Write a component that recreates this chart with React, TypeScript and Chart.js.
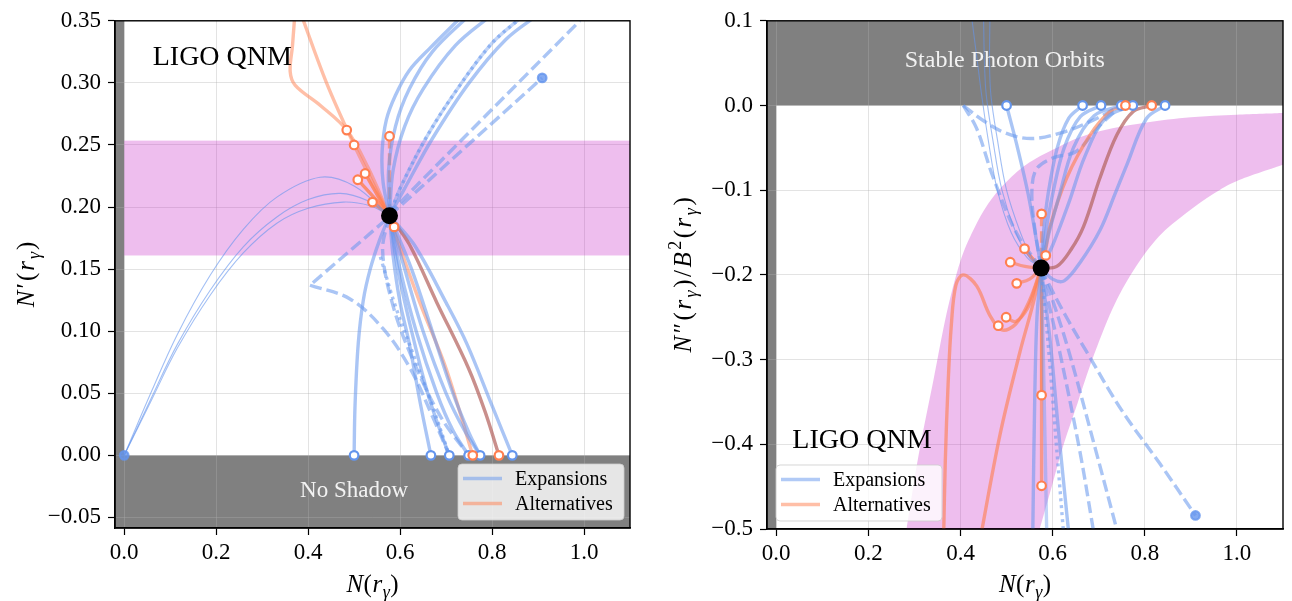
import React, { useEffect, useRef } from 'react';
import { Chart, registerables } from 'chart.js';
Chart.register(...registerables);

type Pt = [number, number];

// ---------------- axes ----------------
const xRange: Pt = [-0.02, 1.1];
const xTickValues = [0, 0.2, 0.4, 0.6, 0.8, 1.0];
const leftYRange: Pt = [-0.0585, 0.35];
const leftYTickValues = [-0.05, 0, 0.05, 0.1, 0.15, 0.2, 0.25, 0.3, 0.35];
const rightYRange: Pt = [-0.5, 0.1];
const rightYTickValues = [-0.5, -0.4, -0.3, -0.2, -0.1, 0, 0.1];
const seriesNames = ['Expansions', 'Alternatives'];

// ---------------- shaded regions ----------------
const leftBandY: Pt = [0.161, 0.2535];
const rightBandUpper: Pt[] = [[0.283, -0.5], [0.31, -0.41], [0.341, -0.325], [0.37, -0.245], [0.399, -0.185], [0.428, -0.147], [0.46, -0.116], [0.5, -0.09], [0.55, -0.067], [0.616, -0.048], [0.667, -0.036], [0.73, -0.027], [0.804, -0.02], [0.9, -0.014], [1.0, -0.011], [1.1, -0.009]];
const rightBandLower: Pt[] = [[0.572, -0.5], [0.598, -0.45], [0.624, -0.4], [0.655, -0.35], [0.686, -0.3], [0.73, -0.24], [0.775, -0.195], [0.83, -0.155], [0.89, -0.127], [0.95, -0.104], [1.0, -0.089], [1.1, -0.07]];

// ---------------- left panel: N'(r) vs N(r) ----------------
const leftCenter: Pt = [0.577, 0.193];
const leftThin1: Pt[] = [[0, 0], [0.06, 0.052], [0.115, 0.097], [0.187, 0.145], [0.259, 0.182], [0.332, 0.208], [0.426, 0.224], [0.5, 0.217], [0.577, 0.193]];
const leftThin2: Pt[] = [[0, 0], [0.06, 0.047], [0.115, 0.089], [0.187, 0.133], [0.259, 0.168], [0.332, 0.192], [0.4, 0.206], [0.47, 0.211], [0.53, 0.205], [0.577, 0.193]];
const leftThin3: Pt[] = [[0, 0], [0.06, 0.045], [0.115, 0.086], [0.187, 0.129], [0.259, 0.163], [0.332, 0.187], [0.4, 0.199], [0.476, 0.204], [0.535, 0.201], [0.577, 0.193]];
const leftUp1: Pt[] = [[0.577, 0.193], [0.563, 0.22], [0.561, 0.245], [0.57, 0.27], [0.59, 0.29], [0.62, 0.31], [0.665, 0.328], [0.73, 0.352]];
const leftUp2: Pt[] = [[0.577, 0.193], [0.575, 0.23], [0.59, 0.265], [0.62, 0.295], [0.67, 0.325], [0.752, 0.355]];
const leftUp3: Pt[] = [[0.577, 0.193], [0.585, 0.23], [0.61, 0.265], [0.65, 0.295], [0.72, 0.33], [0.8, 0.355]];
const leftUp4: Pt[] = [[0.577, 0.193], [0.6, 0.215], [0.66, 0.258], [0.73, 0.298], [0.8, 0.332], [0.861, 0.352]];
const leftUp5: Pt[] = [[0.577, 0.193], [0.61, 0.215], [0.67, 0.255], [0.75, 0.3], [0.83, 0.335], [0.9, 0.355]];
const leftDashUp1: Pt[] = [[0.577, 0.193], [0.607, 0.203], [0.909, 0.304]];
const leftDashUp2: Pt[] = [[0.577, 0.193], [0.593, 0.201], [0.991, 0.35]];
const leftDashCorner: Pt[] = [[0.57, 0.19], [0.404, 0.137]];
const leftDashCurve: Pt[] = [[0.404, 0.137], [0.491, 0.126], [0.563, 0.102], [0.622, 0.07], [0.672, 0.03], [0.707, 0]];
const leftDown500: Pt[] = [[0.5, 0], [0.502, 0.04], [0.509, 0.09], [0.52, 0.125], [0.535, 0.15], [0.555, 0.173], [0.577, 0.193]];
const leftDown667: Pt[] = [[0.577, 0.193], [0.585, 0.16], [0.6, 0.123], [0.62, 0.09], [0.645, 0.04], [0.667, 0]];
const leftDown707: Pt[] = [[0.577, 0.193], [0.595, 0.15], [0.625, 0.1], [0.66, 0.05], [0.685, 0.022], [0.707, 0]];
const leftDot707: Pt[] = [[0.557, 0.16], [0.59, 0.12], [0.63, 0.08], [0.67, 0.04], [0.707, 0]];
const leftDown749: Pt[] = [[0.577, 0.193], [0.6, 0.15], [0.635, 0.1], [0.68, 0.05], [0.715, 0.02], [0.749, 0]];
const leftDashDown749: Pt[] = [[0.577, 0.193], [0.562, 0.165], [0.585, 0.12], [0.63, 0.075], [0.69, 0.03], [0.749, 0]];
const leftDown774a: Pt[] = [[0.577, 0.193], [0.61, 0.15], [0.65, 0.1], [0.7, 0.05], [0.74, 0.02], [0.774, 0]];
const leftDown774b: Pt[] = [[0.577, 0.193], [0.625, 0.15], [0.67, 0.1], [0.715, 0.05], [0.75, 0.018], [0.774, 0]];
const leftDown844: Pt[] = [[0.577, 0.193], [0.63, 0.17], [0.7, 0.123], [0.745, 0.09], [0.8, 0.04], [0.844, 0]];
const leftMix815: Pt[] = [[0.577, 0.193], [0.62, 0.17], [0.68, 0.123], [0.749, 0.07], [0.785, 0.035], [0.815, 0]];
const leftAlt758: Pt[] = [[0.585, 0.183], [0.643, 0.123], [0.7, 0.07], [0.758, 0]];
const leftAltTop1: Pt[] = [[0.372, 0.36], [0.366, 0.33], [0.361, 0.309], [0.372, 0.298], [0.426, 0.282], [0.484, 0.262], [0.53, 0.232], [0.577, 0.193]];
const leftAltTop2: Pt[] = [[0.385, 0.355], [0.44, 0.3], [0.5, 0.25], [0.54, 0.22], [0.577, 0.193]];
const leftAltShort1: Pt[] = [[0.508, 0.222], [0.545, 0.207], [0.577, 0.193]];
const leftAltShort2: Pt[] = [[0.524, 0.227], [0.55, 0.21], [0.577, 0.193]];
const leftAltShort3: Pt[] = [[0.54, 0.204], [0.56, 0.198], [0.577, 0.193]];
const leftAltShort4: Pt[] = [[0.587, 0.184], [0.577, 0.193]];
const leftAltDash: Pt[] = [[0.577, 0.257], [0.577, 0.193]];
const leftAltMarkers: Pt[] = [[0.484, 0.262], [0.5, 0.25], [0.508, 0.222], [0.524, 0.227], [0.54, 0.204], [0.577, 0.257], [0.587, 0.184], [0.758, 0], [0.815, 0]];
const leftExpOpenMarkers: Pt[] = [[0.5, 0], [0.667, 0], [0.707, 0], [0.749, 0], [0.774, 0], [0.844, 0]];
const leftExpFilledMarkers: Pt[] = [[0, 0], [0.909, 0.304]];

// ---------------- right panel: N''(r)/B^2(r) vs N(r) ----------------
const rightCenter: Pt = [0.575, -0.192];
const rightThin1: Pt[] = [[0.424, 0.105], [0.437, 0.05], [0.446, 0.012], [0.46, -0.04], [0.48, -0.1], [0.51, -0.15], [0.545, -0.18], [0.575, -0.192]];
const rightThin2: Pt[] = [[0.45, 0.105], [0.452, 0.05], [0.456, 0.012], [0.47, -0.04], [0.49, -0.1], [0.52, -0.15], [0.55, -0.18], [0.575, -0.192]];
const rightThin3: Pt[] = [[0.464, 0.105], [0.463, 0.05], [0.466, 0.012], [0.48, -0.04], [0.5, -0.1], [0.53, -0.15], [0.555, -0.18], [0.575, -0.192]];
const rightUp500: Pt[] = [[0.5, 0], [0.522, -0.046], [0.547, -0.105], [0.566, -0.163], [0.575, -0.192]];
const rightUp665: Pt[] = [[0.575, -0.192], [0.58, -0.15], [0.59, -0.105], [0.61, -0.05], [0.635, -0.015], [0.665, 0]];
const rightUp705: Pt[] = [[0.575, -0.192], [0.585, -0.15], [0.6, -0.105], [0.625, -0.05], [0.66, -0.013], [0.705, 0]];
const rightUp749: Pt[] = [[0.575, -0.192], [0.59, -0.155], [0.615, -0.105], [0.645, -0.05], [0.69, -0.012], [0.749, 0]];
const rightUp774: Pt[] = [[0.575, -0.192], [0.6, -0.165], [0.635, -0.115], [0.67, -0.06], [0.715, -0.015], [0.774, 0]];
const rightUp844: Pt[] = [[0.575, -0.192], [0.6, -0.205], [0.625, -0.207], [0.66, -0.185], [0.703, -0.147], [0.735, -0.105], [0.761, -0.07], [0.804, -0.015], [0.844, 0]];
const rightMix815: Pt[] = [[0.575, -0.192], [0.609, -0.19], [0.64, -0.17], [0.667, -0.143], [0.703, -0.085], [0.739, -0.035], [0.775, -0.007], [0.815, 0]];
const rightAlt758: Pt[] = [[0.575, -0.192], [0.585, -0.17], [0.594, -0.143], [0.631, -0.085], [0.681, -0.035], [0.725, -0.007], [0.758, 0]];
const rightDashU: Pt[] = [[0.406, 0], [0.45, -0.018], [0.5, -0.033], [0.555, -0.039], [0.62, -0.032], [0.681, -0.019], [0.749, 0]];
const rightDashSteep: Pt[] = [[0.406, 0], [0.435, -0.027], [0.471, -0.085], [0.522, -0.151], [0.575, -0.192]];
const rightDashMid: Pt[] = [[0.575, -0.192], [0.56, -0.14], [0.555, -0.1], [0.565, -0.075], [0.6, -0.062], [0.652, -0.054], [0.7, -0.025], [0.749, 0]];
const rightDown557: Pt[] = [[0.575, -0.192], [0.566, -0.25], [0.561, -0.35], [0.557, -0.5]];
const rightDown587: Pt[] = [[0.575, -0.192], [0.58, -0.3], [0.587, -0.5]];
const rightDot623: Pt[] = [[0.575, -0.192], [0.59, -0.28], [0.605, -0.38], [0.623, -0.5]];
const rightDown634: Pt[] = [[0.575, -0.192], [0.595, -0.28], [0.612, -0.38], [0.634, -0.5]];
const rightDash688: Pt[] = [[0.575, -0.192], [0.59, -0.23], [0.615, -0.29], [0.659, -0.408], [0.688, -0.5]];
const rightDash739: Pt[] = [[0.575, -0.192], [0.6, -0.23], [0.635, -0.29], [0.694, -0.408], [0.739, -0.5]];
const rightDash910: Pt[] = [[0.575, -0.192], [0.587, -0.206], [0.63, -0.25], [0.674, -0.291], [0.75, -0.36], [0.833, -0.423], [0.91, -0.484]];
const rightAltVert1: Pt[] = [[0.576, -0.192], [0.576, -0.342]];
const rightAltVert2: Pt[] = [[0.576, -0.342], [0.576, -0.449]];
const rightAltDashTop: Pt[] = [[0.576, -0.128], [0.576, -0.192]];
const rightAltShort1: Pt[] = [[0.539, -0.169], [0.555, -0.18], [0.575, -0.192]];
const rightAltShort2: Pt[] = [[0.508, -0.185], [0.54, -0.19], [0.575, -0.192]];
const rightAltShort3: Pt[] = [[0.585, -0.177], [0.575, -0.192]];
const rightAltShort4: Pt[] = [[0.522, -0.21], [0.55, -0.205], [0.575, -0.192]];
const rightAltCurl: Pt[] = [[0.499, -0.25], [0.52, -0.255], [0.545, -0.24], [0.562, -0.215], [0.575, -0.192]];
const rightAltWiggle: Pt[] = [[0.363, -0.52], [0.367, -0.42], [0.373, -0.33], [0.38, -0.26], [0.39, -0.212], [0.406, -0.2], [0.435, -0.213], [0.464, -0.248], [0.49, -0.265], [0.52, -0.258], [0.55, -0.23], [0.575, -0.192]];
const rightAltRise: Pt[] = [[0.44, -0.52], [0.486, -0.388], [0.529, -0.291], [0.558, -0.233], [0.575, -0.192]];
const rightAltMarkers: Pt[] = [[0.576, -0.128], [0.539, -0.169], [0.508, -0.185], [0.585, -0.177], [0.522, -0.21], [0.499, -0.25], [0.482, -0.26], [0.576, -0.342], [0.576, -0.449], [0.758, 0], [0.815, 0]];
const rightExpOpenMarkers: Pt[] = [[0.5, 0], [0.665, 0], [0.705, 0], [0.749, 0], [0.774, 0], [0.844, 0]];
const rightExpFilledMarkers: Pt[] = [[0.91, -0.484]];

// ---------------- styles ----------------
type Kind = 'exp' | 'expThin' | 'expLight' | 'alt' | 'altLight' | 'altStrong' | 'mix';
type Dash = 'solid' | 'dashed' | 'dotted';
type Curve = { pts: Pt[]; kind: Kind; dash?: Dash };

const STYLE: Record<Kind, { color: string; width: number }> = {
  exp: { color: 'rgba(100,149,237,0.55)', width: 3.4 },
  expLight: { color: 'rgba(100,149,237,0.4)', width: 3.4 },
  expThin: { color: 'rgba(100,149,237,0.6)', width: 1.1 },
  alt: { color: 'rgba(255,127,80,0.62)', width: 3.4 },
  altLight: { color: 'rgba(255,127,80,0.5)', width: 3.4 },
  altStrong: { color: 'rgba(255,127,80,0.8)', width: 3.4 },
  mix: { color: 'rgba(180,100,95,0.72)', width: 3.4 },
};
const BLUE_EDGE = '#6495ED';
const ORANGE_EDGE = '#FF7F50';
const GRAY = '#808080';
const BAND = 'rgba(200,40,200,0.3)';
const SERIF = '"Liberation Serif", "DejaVu Serif", serif';

const leftCurves: Curve[] = [
  { pts: leftThin1, kind: 'expThin' }, { pts: leftThin2, kind: 'expThin' }, { pts: leftThin3, kind: 'expThin' },
  { pts: leftUp1, kind: 'exp' }, { pts: leftUp2, kind: 'exp' }, { pts: leftUp3, kind: 'exp' },
  { pts: leftUp4, kind: 'exp', dash: 'dotted' }, { pts: leftUp4, kind: 'expLight' }, { pts: leftUp5, kind: 'exp' },
  { pts: leftDashUp1, kind: 'exp', dash: 'dashed' }, { pts: leftDashUp2, kind: 'exp', dash: 'dashed' },
  { pts: leftDashCorner, kind: 'exp', dash: 'dashed' }, { pts: leftDashCurve, kind: 'exp', dash: 'dashed' },
  { pts: leftDown500, kind: 'exp' }, { pts: leftDown667, kind: 'exp' }, { pts: leftDown707, kind: 'exp' },
  { pts: leftDot707, kind: 'exp', dash: 'dotted' }, { pts: leftDown749, kind: 'exp' },
  { pts: leftDashDown749, kind: 'exp', dash: 'dashed' }, { pts: leftDown774a, kind: 'exp' },
  { pts: leftDown774b, kind: 'exp' }, { pts: leftDown844, kind: 'exp' }, { pts: leftMix815, kind: 'mix' },
  { pts: leftAlt758, kind: 'altLight' }, { pts: leftAltTop1, kind: 'altLight' }, { pts: leftAltTop2, kind: 'altLight' },
  { pts: leftAltShort1, kind: 'altStrong' }, { pts: leftAltShort2, kind: 'altStrong' }, { pts: leftAltShort3, kind: 'altStrong' },
  { pts: leftAltShort4, kind: 'altStrong' }, { pts: leftAltDash, kind: 'alt', dash: 'dashed' },
];

const rightCurves: Curve[] = [
  { pts: rightThin1, kind: 'expThin' }, { pts: rightThin2, kind: 'expThin' }, { pts: rightThin3, kind: 'expThin' },
  { pts: rightUp500, kind: 'exp' }, { pts: rightUp665, kind: 'exp' }, { pts: rightUp705, kind: 'exp' },
  { pts: rightUp749, kind: 'exp' }, { pts: rightUp774, kind: 'exp' }, { pts: rightUp844, kind: 'exp' },
  { pts: rightMix815, kind: 'mix' }, { pts: rightAlt758, kind: 'alt' },
  { pts: rightDashU, kind: 'exp', dash: 'dashed' }, { pts: rightDashSteep, kind: 'exp', dash: 'dashed' },
  { pts: rightDashMid, kind: 'exp', dash: 'dashed' },
  { pts: rightDown557, kind: 'exp' }, { pts: rightDown587, kind: 'expLight' }, { pts: rightDot623, kind: 'exp', dash: 'dotted' },
  { pts: rightDown634, kind: 'exp' }, { pts: rightDash688, kind: 'exp', dash: 'dashed' },
  { pts: rightDash739, kind: 'exp', dash: 'dashed' }, { pts: rightDash910, kind: 'exp', dash: 'dashed' },
  { pts: rightAltVert1, kind: 'altStrong' }, { pts: rightAltVert2, kind: 'alt' }, { pts: rightAltDashTop, kind: 'alt', dash: 'dashed' },
  { pts: rightAltShort1, kind: 'altStrong' }, { pts: rightAltShort2, kind: 'alt' }, { pts: rightAltShort3, kind: 'altStrong' },
  { pts: rightAltShort4, kind: 'alt' }, { pts: rightAltCurl, kind: 'alt' }, { pts: rightAltWiggle, kind: 'alt' },
  { pts: rightAltRise, kind: 'alt' },
];

type Seg = { t: string; it?: boolean; sub?: boolean; sup?: boolean };
const xTitle: Seg[] = [{ t: 'N', it: true }, { t: '(' }, { t: 'r', it: true }, { t: 'γ', it: true, sub: true }, { t: ')' }];
const leftYTitle: Seg[] = [{ t: 'N', it: true }, { t: '′' }, { t: '(' }, { t: 'r', it: true }, { t: 'γ', it: true, sub: true }, { t: ')' }];
const rightYTitle: Seg[] = [{ t: 'N', it: true }, { t: '″' }, { t: '(' }, { t: 'r', it: true }, { t: 'γ', it: true, sub: true }, { t: ')' }, { t: '/' }, { t: 'B', it: true }, { t: '2', sup: true }, { t: '(' }, { t: 'r', it: true }, { t: 'γ', it: true, sub: true }, { t: ')' }];

type Label = { text: string; x: number; y: number; size: number; color: string; align: CanvasTextAlign };

type PanelSpec = {
  width: number; yAxisW: number; xAxisH: number; padTop: number; padRight: number;
  yRange: Pt; yTicks: number[]; yDecimals: number;
  curves: Curve[]; center: Pt; altMarkers: Pt[]; expOpen: Pt[]; expFilled: Pt[];
  grayRects: [number, number, number, number][];
  bandY?: Pt; bandUpper?: Pt[]; bandLower?: Pt[];
  labels: Label[]; yTitle: Seg[]; yTitleX: number; yTitleSpacing: number; legendSide: 'left' | 'right';
};

const leftSpec: PanelSpec = {
  width: 645, yAxisW: 115, xAxisH: 73, padTop: 15, padRight: 15,
  yRange: leftYRange, yTicks: leftYTickValues, yDecimals: 2,
  curves: leftCurves, center: leftCenter, altMarkers: leftAltMarkers, expOpen: leftExpOpenMarkers, expFilled: leftExpFilledMarkers,
  grayRects: [[xRange[0], 0, leftYRange[0], leftYRange[1]], [xRange[0], xRange[1], leftYRange[0], 0]],
  bandY: leftBandY,
  labels: [
    { text: 'LIGO QNM', x: 0.062, y: 0.3147, size: 28, color: '#000', align: 'left' },
    { text: 'No Shadow', x: 0.5, y: -0.0335, size: 23, color: '#f2f2f2', align: 'center' },
  ],
  yTitle: leftYTitle, yTitleX: 34, yTitleSpacing: 2, legendSide: 'right',
};

const rightSpec: PanelSpec = {
  width: 647, yAxisW: 122, xAxisH: 72, padTop: 15, padRight: 9,
  yRange: rightYRange, yTicks: rightYTickValues, yDecimals: 1,
  curves: rightCurves, center: rightCenter, altMarkers: rightAltMarkers, expOpen: rightExpOpenMarkers, expFilled: rightExpFilledMarkers,
  grayRects: [[xRange[0], 0, rightYRange[0], rightYRange[1]], [xRange[0], xRange[1], 0, rightYRange[1]]],
  bandUpper: rightBandUpper, bandLower: rightBandLower,
  labels: [
    { text: 'Stable Photon Orbits', x: 0.496, y: 0.0452, size: 24, color: '#f2f2f2', align: 'center' },
    { text: 'LIGO QNM', x: 0.035, y: -0.4048, size: 28, color: '#000', align: 'left' },
  ],
  yTitle: rightYTitle, yTitleX: 46, yTitleSpacing: 2.5, legendSide: 'left',
};

const fmt = (v: number, d: number) => v.toFixed(d).replace('-', '\u2212');

function drawRich(ctx: CanvasRenderingContext2D, segs: Seg[], cx: number, cy: number, size: number, rotate: boolean, spacing: number) {
  ctx.save();
  ctx.translate(cx, cy);
  if (rotate) ctx.rotate(-Math.PI / 2);
  const font = (s: Seg) => `${s.it ? 'italic ' : ''}${s.sub || s.sup ? Math.round(size * 0.7) : size}px ${SERIF}`;
  let w = 0;
  for (const s of segs) { ctx.font = font(s); w += ctx.measureText(s.t).width + spacing; }
  w -= spacing;
  let x = -w / 2;
  ctx.textBaseline = 'alphabetic';
  ctx.textAlign = 'left';
  ctx.fillStyle = '#000';
  for (const s of segs) {
    ctx.font = font(s);
    const dy = s.sub ? size * 0.22 : s.sup ? -size * 0.4 : 0;
    ctx.fillText(s.t, x, dy);
    x += ctx.measureText(s.t).width + spacing;
  }
  ctx.restore();
}

// smooth path through pixel points (Catmull-Rom as cubic Bezier)
function smoothPath(ctx: CanvasRenderingContext2D, p: Pt[], start: boolean) {
  if (start) ctx.moveTo(p[0][0], p[0][1]); else ctx.lineTo(p[0][0], p[0][1]);
  for (let i = 0; i < p.length - 1; i++) {
    const p0 = p[Math.max(0, i - 1)], p1 = p[i], p2 = p[i + 1], p3 = p[Math.min(p.length - 1, i + 2)];
    const c1x = p1[0] + (p2[0] - p0[0]) / 6, c1y = p1[1] + (p2[1] - p0[1]) / 6;
    const c2x = p2[0] - (p3[0] - p1[0]) / 6, c2y = p2[1] - (p3[1] - p1[1]) / 6;
    ctx.bezierCurveTo(c1x, c1y, c2x, c2y, p2[0], p2[1]);
  }
}

function decorPlugin(spec: PanelSpec) {
  return {
    id: 'decor',
    beforeDraw(chart: any) {
      const { ctx, chartArea: a } = chart;
      const xs = chart.scales.x, ys = chart.scales.y;
      ctx.save();
      ctx.beginPath(); ctx.rect(a.left, a.top, a.width, a.height); ctx.clip();
      ctx.fillStyle = GRAY;
      for (const [x0, x1, y0, y1] of spec.grayRects) {
        const p0 = xs.getPixelForValue(x0), p1 = xs.getPixelForValue(x1);
        const q0 = ys.getPixelForValue(y1), q1 = ys.getPixelForValue(y0);
        ctx.fillRect(p0, q0, p1 - p0, q1 - q0);
      }
      ctx.restore();
    },
    beforeDatasetsDraw(chart: any) {
      const { ctx, chartArea: a } = chart;
      const xs = chart.scales.x, ys = chart.scales.y;
      const toPx = (pts: Pt[]): Pt[] => pts.map(([x, y]) => [xs.getPixelForValue(x), ys.getPixelForValue(y)]);
      ctx.save();
      ctx.beginPath(); ctx.rect(a.left, a.top, a.width, a.height); ctx.clip();
      ctx.fillStyle = BAND;
      if (spec.bandY) {
        const q0 = ys.getPixelForValue(spec.bandY[1]), q1 = ys.getPixelForValue(spec.bandY[0]);
        ctx.fillRect(xs.getPixelForValue(0), q0, a.right - xs.getPixelForValue(0), q1 - q0);
      }
      if (spec.bandUpper && spec.bandLower) {
        ctx.beginPath();
        smoothPath(ctx, toPx(spec.bandUpper), true);
        ctx.lineTo(a.right + 5, ys.getPixelForValue(spec.bandUpper[spec.bandUpper.length - 1][1]));
        ctx.lineTo(a.right + 5, ys.getPixelForValue(spec.bandLower[spec.bandLower.length - 1][1]));
        smoothPath(ctx, toPx([...spec.bandLower].reverse()), false);
        ctx.closePath();
        ctx.fill();
      }
      ctx.restore();
    },
    afterDatasetsDraw(chart: any) {
      const { ctx, chartArea: a } = chart;
      const xs = chart.scales.x, ys = chart.scales.y;
      ctx.save();
      for (const l of spec.labels) {
        ctx.font = `${l.size}px ${SERIF}`;
        ctx.fillStyle = l.color;
        ctx.textAlign = l.align;
        ctx.textBaseline = 'alphabetic';
        ctx.fillText(l.text, xs.getPixelForValue(l.x), ys.getPixelForValue(l.y));
      }
      const w = 166, h = 56;
      const x0 = spec.legendSide === 'right' ? a.right - 6 - w : a.left + 9;
      const y0 = a.bottom - 8 - h;
      ctx.beginPath();
      (ctx as any).roundRect(x0, y0, w, h, 4);
      ctx.fillStyle = 'rgba(255,255,255,0.8)';
      ctx.fill();
      ctx.strokeStyle = 'rgba(204,204,204,0.8)';
      ctx.lineWidth = 1;
      ctx.stroke();
      const colors = ['rgba(100,149,237,0.5)', 'rgba(255,127,80,0.5)'];
      seriesNames.forEach((name, i) => {
        const yy = y0 + 14.5 + i * 25;
        ctx.beginPath();
        ctx.strokeStyle = colors[i];
        ctx.lineWidth = 3.4;
        ctx.moveTo(x0 + 5, yy); ctx.lineTo(x0 + 44, yy);
        ctx.stroke();
        ctx.fillStyle = '#000';
        ctx.font = `20px ${SERIF}`;
        ctx.textAlign = 'left';
        ctx.textBaseline = 'middle';
        ctx.fillText(name, x0 + 57, yy + 1);
      });
      ctx.strokeStyle = '#000';
      ctx.lineWidth = 1.4;
      ctx.strokeRect(a.left, a.top, a.right - a.left, a.bottom - a.top);
      drawRich(ctx, xTitle, (a.left + a.right) / 2, 592, 25, false, 0.5);
      drawRich(ctx, spec.yTitle, spec.yTitleX, (a.top + a.bottom) / 2, 25, true, spec.yTitleSpacing);
      ctx.restore();
    },
  };
}

function buildConfig(spec: PanelSpec): any {
  const toXY = (pts: Pt[]) => pts.map(([x, y]) => ({ x, y }));
  const curveSets = spec.curves.map((c) => {
    const st = STYLE[c.kind];
    return {
      type: 'line',
      data: toXY(c.pts),
      borderColor: st.color,
      borderWidth: st.width,
      borderDash: c.dash === 'dashed' ? [12, 5] : c.dash === 'dotted' ? [3, 4] : [],
      pointRadius: 0,
      pointHoverRadius: 0,
      tension: 0.35,
      fill: false,
    };
  });
  const markerSet = (pts: Pt[], edge: string, fillColor: string) => ({
    type: 'scatter',
    data: toXY(pts),
    pointRadius: 4.3,
    pointBorderWidth: 2.2,
    pointBorderColor: edge,
    pointBackgroundColor: fillColor,
    showLine: false,
  });
  const datasets = [
    { type: 'scatter', data: toXY([spec.center]), pointRadius: 8.5, pointBackgroundColor: '#000', pointBorderColor: '#000', pointBorderWidth: 0, showLine: false },
    markerSet(spec.altMarkers, ORANGE_EDGE, '#fff'),
    markerSet(spec.expOpen, BLUE_EDGE, '#fff'),
    markerSet(spec.expFilled, 'rgba(100,149,237,0.8)', 'rgba(100,149,237,0.8)'),
    ...curveSets,
  ];
  const tickFont = { family: SERIF, size: 23 };
  const grid = { color: 'rgba(176,176,176,0.35)', lineWidth: 1, tickLength: 7, tickColor: '#000', tickWidth: 1.2, drawTicks: true };
  return {
    type: 'line',
    data: { datasets },
    options: {
      responsive: false,
      animation: false,
      events: [],
      layout: { padding: { top: spec.padTop, right: spec.padRight, left: 0, bottom: 0 } },
      elements: { line: { capBezierPoints: false } },
      plugins: { legend: { display: false }, tooltip: { enabled: false } },
      scales: {
        x: {
          type: 'linear',
          min: xRange[0],
          max: xRange[1],
          afterBuildTicks: (s: any) => { s.ticks = xTickValues.map((v) => ({ value: v })); },
          afterFit: (s: any) => { s.height = spec.xAxisH; },
          ticks: { callback: (v: number) => fmt(v, 1), font: tickFont, color: '#000', padding: 4, maxRotation: 0, autoSkip: false },
          grid,
          border: { display: true, color: '#000', width: 1.4 },
        },
        y: {
          type: 'linear',
          min: spec.yRange[0],
          max: spec.yRange[1],
          afterBuildTicks: (s: any) => { s.ticks = spec.yTicks.map((v) => ({ value: v })); },
          afterFit: (s: any) => { s.width = spec.yAxisW; },
          ticks: { callback: (v: number) => fmt(v, spec.yDecimals), font: tickFont, color: '#000', padding: 7, autoSkip: false },
          grid,
          border: { display: true, color: '#000', width: 1.4 },
        },
      },
    },
    plugins: [decorPlugin(spec)],
  };
}

function Panel({ spec }: { spec: PanelSpec }) {
  const ref = useRef<HTMLCanvasElement>(null);
  useEffect(() => {
    const chart = new Chart(ref.current as HTMLCanvasElement, buildConfig(spec));
    return () => chart.destroy();
  }, [spec]);
  return <canvas ref={ref} width={spec.width} height={601} style={{ display: 'block', width: spec.width, height: 601 }} />;
}

export default function App() {
  return (
    <div style={{ position: 'fixed', left: 0, top: 0, width: 1292, height: 601, background: '#fff', overflow: 'hidden' }}>
      <div style={{ position: 'absolute', left: 0, top: 0 }}>
        <Panel spec={leftSpec} />
      </div>
      <div style={{ position: 'absolute', left: 645, top: 0 }}>
        <Panel spec={rightSpec} />
      </div>
    </div>
  );
}
